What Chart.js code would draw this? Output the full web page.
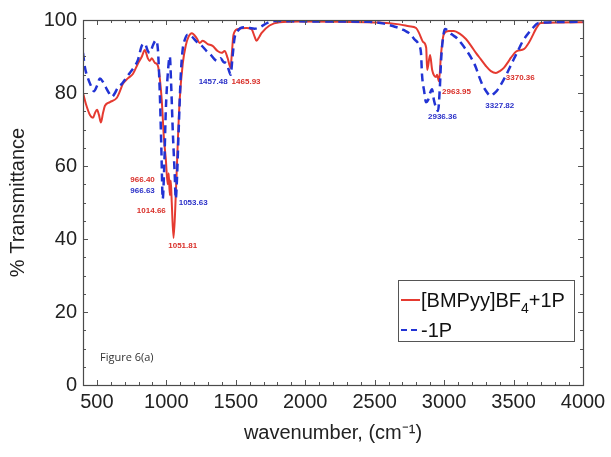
<!DOCTYPE html>
<html>
<head>
<meta charset="utf-8">
<script src="https://cdn.jsdelivr.net/npm/chart.js@4"></script>
<style>
  html, body { margin: 0; padding: 0; background: #fff; }
  #wrap { width: 611px; height: 457px; }
</style>
</head>
<body>
<div id="wrap"><canvas id="ftir" width="611" height="457"></canvas></div>
<script>
// [BMPyy]BF4+1P (red, solid)
const redWavenumber = [
  400, 421, 450, 472, 486, 501, 515, 529, 544, 558, 594, 644, 666, 687, 723, 759, 795, 824, 845, 867,
  881, 895, 917, 939, 953, 967, 982, 996, 1010, 1017, 1025, 1032, 1039, 1052, 1068, 1082, 1096, 1118, 1140, 1161,
  1183, 1219, 1240, 1262, 1298, 1333, 1369, 1398, 1420, 1441, 1463, 1470, 1484, 1513, 1578, 1613, 1635, 1649, 1671, 1685,
  1743, 1815, 1958, 2245, 2532, 2676, 2748, 2798, 2820, 2849, 2871, 2878, 2899, 2914, 2942, 2949, 2963, 2978, 2999, 3035,
  3071, 3114, 3157, 3193, 3229, 3265, 3301, 3337, 3373, 3401, 3430, 3459, 3480, 3523, 3574, 3609, 3638, 3660, 3696, 4000
];
const redTransmittance = [
  80, 77, 74, 73.2, 74.5, 75.4, 74, 71.9, 74.5, 76.5, 77.5, 78.7, 80.5, 82.5, 84, 85.2, 88, 90, 91.8, 89.5,
  88.8, 89.5, 88.3, 87.5, 84, 78, 68, 62, 55, 58, 52, 56, 50, 40.3, 52, 66, 78, 88, 93, 95.5,
  96.4, 95, 93.7, 94.3, 93.4, 92.9, 91.5, 91, 91.5, 89.6, 86.9, 90, 96, 97.5, 97.8, 97.5, 95.5, 94.3, 95.5, 96.4,
  98.5, 99.4, 99.6, 99.5, 99.3, 98.8, 98.3, 97.8, 96.4, 94, 92.4, 86.3, 90.4, 86.3, 84.4, 85, 83.2, 90.7, 96.2, 97,
  97, 96.2, 94.8, 93, 91, 89.2, 87.4, 86, 85.5, 86, 86.9, 88.4, 89.6, 91.5, 92, 93.7, 95.8, 97.5, 99.2, 99.4
];

// -1P (blue, dashed)
const blueWavenumber = [
  400, 414, 436, 457, 479, 501, 522, 544, 565, 587, 608, 630, 651, 680, 709, 737, 766, 795, 824, 845,
  867, 881, 903, 924, 939, 953, 964, 974, 985, 996, 1010, 1025, 1035, 1046, 1060, 1068, 1075, 1089, 1104, 1118,
  1132, 1154, 1183, 1219, 1254, 1290, 1319, 1348, 1369, 1391, 1412, 1434, 1448, 1463, 1477, 1491, 1513, 1563, 1599, 1635,
  1671, 1728, 1779, 2102, 2461, 2568, 2640, 2676, 2712, 2748, 2784, 2820, 2834, 2841, 2856, 2870, 2884, 2899, 2913, 2927,
  2942, 2956, 2970, 2978, 2992, 3006, 3057, 3093, 3128, 3164, 3200, 3229, 3250, 3279, 3301, 3322, 3337, 3358, 3380, 3416,
  3444, 3473, 3502, 3531, 3559, 3595, 3631, 3681, 4000
];
const blueTransmittance = [
  91, 87, 84, 82, 80.5, 82, 84, 83, 81.5, 80, 79, 80, 81.5, 82.5, 84, 85.5, 87, 89, 93, 93.5,
  91.5, 91, 93, 94.4, 92, 80, 65, 51, 60, 75, 85, 90, 82, 70, 58, 51, 55, 70, 85, 92,
  94.5, 96, 95.5, 94, 93, 91.5, 90.5, 89.2, 88.8, 89.5, 88.5, 88, 86.5, 85, 90, 95, 97, 98, 97.8, 97.6,
  98, 99.2, 99.7, 99.6, 99.5, 99, 98.2, 97.8, 97.2, 96.4, 94.8, 93, 90.7, 85, 80.6, 77.5, 78, 80, 81, 78,
  76, 75.1, 82, 88.8, 95, 97.5, 96, 95, 93.4, 91.5, 89.3, 87, 84.7, 82, 80.6, 79.5, 79.2, 79.8, 80.6, 82.8,
  84.7, 87, 89.3, 91.5, 93.7, 95.8, 97.5, 99.2, 99.5
];

const wavenumberTicks = [500, 1000, 1500, 2000, 2500, 3000, 3500, 4000];
const transmittanceTicks = [0, 20, 40, 60, 80, 100];

// peak annotations: text, anchor (wavenumber, %T), series
const peakText = ['966.40', '966.63', '1014.66', '1053.63', '1051.81', '1457.48', '1465.93', '2963.95', '2936.36', '3327.82', '3370.36'];
const peakX = [917, 917, 996, 1089, 1118, 1441, 1470, 2985, 2988, 3401, 3444];
const peakY = [56.2, 53.2, 47.7, 49.9, 38.1, 83, 83, 80.3, 73.4, 76.4, 84.1];
const peakSeries = ['red', 'blue', 'red', 'blue', 'red', 'blue', 'red', 'red', 'blue', 'blue', 'red'];
const peakAlign = ['right', 'right', 'right', 'left', 'center', 'right', 'left', 'left', 'center', 'center', 'left'];

const RED = '#e53a30';
const BLUE = '#2233d4';
const LABEL_RED = '#d9302a';
const LABEL_BLUE = '#2a30c8';
const FONT = "'Liberation Sans', Arial, sans-serif";

const toPoints = (xs, ys) => xs.map((x, i) => ({ x, y: ys[i] }));

// box, inner ticks, annotations, legend
const decorations = {
  id: 'decorations',
  afterDatasetsDraw(chart) {
    const { ctx, chartArea: area, scales: { x, y } } = chart;
    ctx.save();

    // inner ticks on all four sides
    ctx.strokeStyle = '#555';
    ctx.lineWidth = 1;
    ctx.beginPath();
    for (let v = 500; v < 4000; v += 100) {
      const px = Math.round(x.getPixelForValue(v)) + 0.5;
      const len = v % 500 === 0 ? 5 : 3;
      ctx.moveTo(px, area.bottom); ctx.lineTo(px, area.bottom - len);
      ctx.moveTo(px, area.top); ctx.lineTo(px, area.top + len);
    }
    for (let v = 5; v < 100; v += 5) {
      const py = Math.round(y.getPixelForValue(v)) + 0.5;
      const len = v % 20 === 0 ? 5 : 3;
      ctx.moveTo(area.left, py); ctx.lineTo(area.left + len, py);
      ctx.moveTo(area.right, py); ctx.lineTo(area.right - len, py);
    }
    ctx.stroke();

    ctx.strokeStyle = '#4a4a4a';
    ctx.lineWidth = 1.2;
    ctx.strokeRect(Math.round(area.left) + 0.5, Math.round(area.top) + 0.5,
      Math.round(area.right - area.left), Math.round(area.bottom - area.top));

    // peak labels
    ctx.font = 'bold 8px ' + FONT;
    ctx.textBaseline = 'middle';
    peakText.forEach((text, i) => {
      ctx.fillStyle = peakSeries[i] === 'red' ? LABEL_RED : LABEL_BLUE;
      ctx.textAlign = peakAlign[i];
      ctx.fillText(text, x.getPixelForValue(peakX[i]), y.getPixelForValue(peakY[i]));
    });

    // figure tag
    ctx.fillStyle = '#333';
    ctx.font = "11px 'Open Sans', sans-serif";
    ctx.textAlign = 'left';
    ctx.fillText('Figure 6(a)', 100, 358);

    // legend
    const lx = 398, ly = 280, lw = 176, lh = 61;
    ctx.fillStyle = '#fff';
    ctx.fillRect(lx, ly, lw, lh);
    ctx.strokeStyle = '#555';
    ctx.lineWidth = 1;
    ctx.strokeRect(lx + 0.5, ly + 0.5, lw, lh);

    ctx.lineWidth = 2;
    ctx.strokeStyle = RED;
    ctx.beginPath(); ctx.moveTo(401, 300); ctx.lineTo(420, 300); ctx.stroke();
    ctx.strokeStyle = BLUE;
    ctx.setLineDash([6, 4]);
    ctx.beginPath(); ctx.moveTo(401, 330); ctx.lineTo(420, 330); ctx.stroke();
    ctx.setLineDash([]);

    ctx.fillStyle = '#111';
    ctx.textAlign = 'left';
    ctx.textBaseline = 'alphabetic';
    ctx.font = '20px ' + FONT;
    let tx = 421;
    ctx.fillText('[BMPyy]BF', tx, 307);
    tx += ctx.measureText('[BMPyy]BF').width;
    ctx.font = '14px ' + FONT;
    ctx.fillText('4', tx, 313);
    tx += ctx.measureText('4').width;
    ctx.font = '20px ' + FONT;
    ctx.fillText('+1P', tx, 307);
    ctx.fillText('-1P', 421, 337);

    ctx.restore();
  },
};

new Chart(document.getElementById('ftir'), {
  type: 'line',
  data: {
    datasets: [
      {
        label: '[BMPyy]BF4+1P',
        data: toPoints(redWavenumber, redTransmittance),
        borderColor: RED,
        borderWidth: 2,
        pointRadius: 0,
        cubicInterpolationMode: 'monotone',
        order: 1,
      },
      {
        label: '-1P',
        data: toPoints(blueWavenumber, blueTransmittance),
        borderColor: BLUE,
        borderWidth: 2.5,
        borderDash: [8, 5],
        pointRadius: 0,
        cubicInterpolationMode: 'monotone',
        order: 0,
      },
    ],
  },
  options: {
    responsive: false,
    animation: false,
    events: [],
    layout: { padding: { left: 0, right: 28, top: 20, bottom: 0 } },
    plugins: { legend: { display: false }, tooltip: { enabled: false } },
    scales: {
      x: {
        type: 'linear',
        min: 400,
        max: 4000,
        afterBuildTicks: (scale) => { scale.ticks = wavenumberTicks.map((value) => ({ value })); },
        afterFit: (scale) => { scale.height = 72; },
        grid: { display: false, drawTicks: false, tickLength: 0 },
        border: { display: false },
        ticks: {
          color: '#222',
          font: { family: FONT, size: 20 },
          padding: 5,
          maxRotation: 0,
          autoSkip: false,
          callback: (value) => String(value),
        },
        title: {
          display: true,
          text: 'wavenumber, (cm\u207B\u00B9)',
          color: '#222',
          font: { family: FONT, size: 20 },
          padding: { top: 0, bottom: 12 },
        },
      },
      y: {
        min: 0,
        max: 100,
        afterBuildTicks: (scale) => { scale.ticks = transmittanceTicks.map((value) => ({ value })); },
        afterFit: (scale) => { scale.width = 83; },
        grid: { display: false, drawTicks: false, tickLength: 0 },
        border: { display: false },
        ticks: {
          color: '#222',
          font: { family: FONT, size: 20 },
          padding: 6,
          callback: (value) => String(value),
        },
        title: {
          display: true,
          text: '% Transmittance',
          color: '#222',
          font: { family: FONT, size: 20 },
          padding: { top: 6, bottom: 0 },
        },
      },
    },
  },
  plugins: [decorations],
});
</script>
</body>
</html>
